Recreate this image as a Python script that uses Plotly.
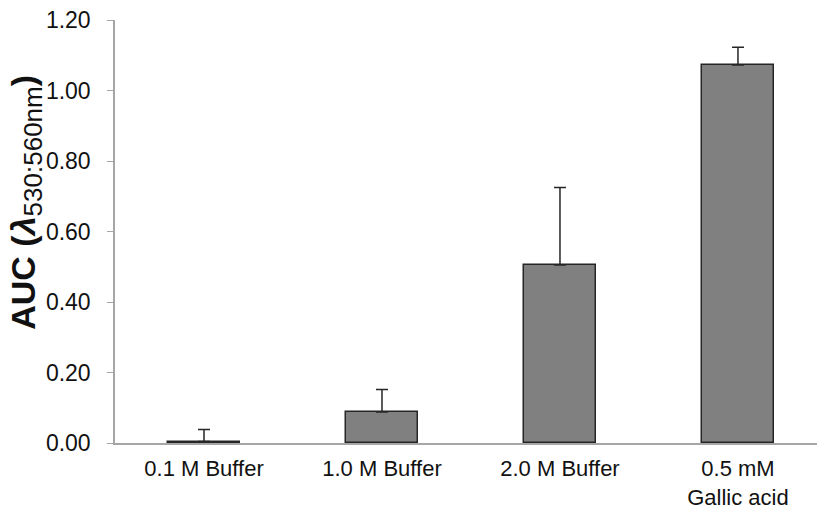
import plotly.graph_objects as go

categories = ["0.1 M Buffer", "1.0 M Buffer", "2.0 M Buffer", "0.5 mM<br>Gallic acid"]
values = [0.004, 0.088, 0.505, 1.072]
upper = [0.038, 0.152, 0.725, 1.123]
tick_vals = [0, 0.2, 0.4, 0.6, 0.8, 1.0, 1.2]

err = [u - v for u, v in zip(upper, values)]

fig = go.Figure(go.Bar(
    x=list(range(len(categories))), y=values,
    width=0.4,
    marker=dict(color="#808080", line=dict(color="#262626", width=1.5)),
    error_y=dict(type="data", array=err, arrayminus=[0]*len(err), symmetric=False,
                 color="#262626", thickness=1.5, width=6),
))

fig.update_layout(
    width=817, height=510,
    margin=dict(l=115, r=0, t=20, b=67),
    plot_bgcolor="white", paper_bgcolor="white",
    font=dict(family="Liberation Sans, Arial", size=23, color="#111111"),
    showlegend=False,
    bargap=0,
)
fig.update_xaxes(
    tickmode="array", tickvals=list(range(len(categories))), ticktext=categories,
    range=[-0.5, 3.444], showline=True, linecolor="#a6a6a6", linewidth=1.5,
    ticks="", showgrid=False, zeroline=False, tickfont=dict(size=22),
    ticklabelstandoff=5, automargin=False,
)
fig.update_yaxes(
    range=[0, 1.2], tickvals=tick_vals, tickformat=".2f",
    showline=True, linecolor="#a6a6a6", linewidth=1.5,
    ticks="outside", ticklen=6, tickcolor="#a6a6a6", tickwidth=1.2,
    showgrid=False, zeroline=False, tickfont=dict(size=23),
    ticklabelstandoff=12, automargin=False,
)
fig.add_annotation(
    text="<b>AUC (<i>λ</i></b><sub><span style='font-size:26px'>530:560nm</span></sub><b>)</b>",
    xref="paper", yref="paper", x=-0.127, y=0.57,
    xanchor="center", yanchor="middle", textangle=-90, showarrow=False,
    font=dict(size=34, color="#111111"),
)

fig.write_html("out.html")
